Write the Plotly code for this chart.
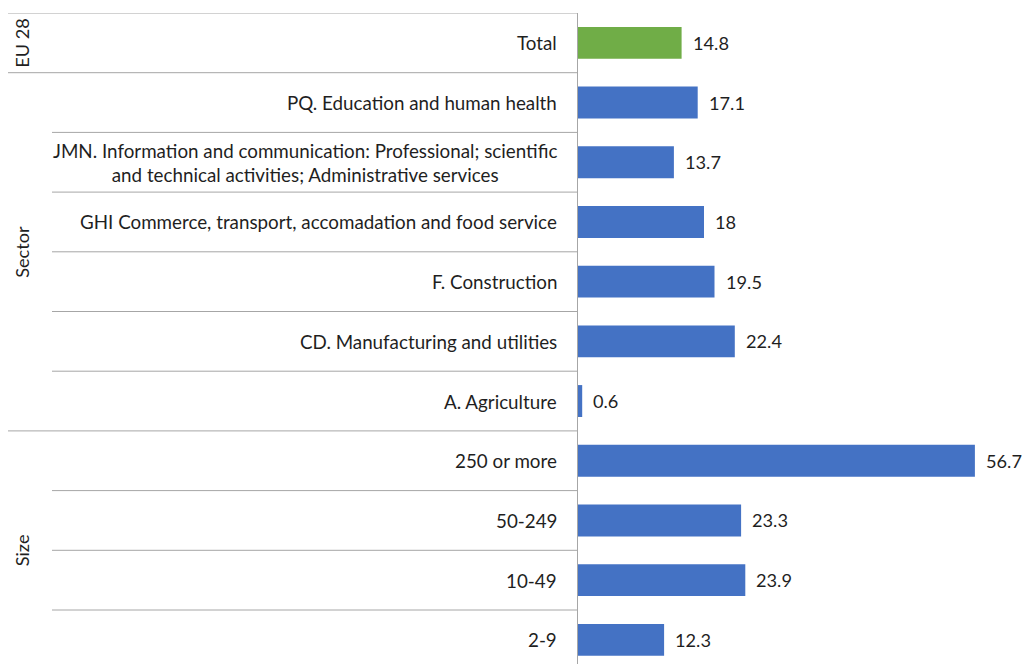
import plotly.graph_objects as go

# Share of enterprises, EU 28 breakdown by sector and size
groups = ["EU 28", "Sector", "Size"]
group_sizes = [1, 6, 4]
categories = [
    "Total",
    "PQ. Education and human health",
    "JMN. Information and communication: Professional; scientific<br>and technical activities; Administrative services",
    "GHI Commerce, transport, accomadation and food service",
    "F. Construction",
    "CD. Manufacturing and utilities",
    "A. Agriculture",
    "250 or more",
    "50-249",
    "10-49",
    "2-9",
]
values = [14.8, 17.1, 13.7, 18, 19.5, 22.4, 0.6, 56.7, 23.3, 23.9, 12.3]
value_labels = ["14.8", "17.1", "13.7", "18", "19.5", "22.4", "0.6", "56.7", "23.3", "23.9", "12.3"]

W, H = 1022, 664
AXIS_X = 578          # pixel position of the value axis
ROW_H = 59.7          # pixel height of one category row
TOP = 13
FONT = "Lato"
TEXT_COLOR = "#1f1f1f"
LINE = "#a6a6a6"

rows = list(range(len(categories)))
colors = ["#70AD47"] + ["#4472C4"] * (len(categories) - 1)

fig = go.Figure(
    go.Bar(
        x=values,
        y=rows,
        orientation="h",
        marker=dict(color=colors, line=dict(width=0)),
        width=0.535,
        hoverinfo="skip",
    )
)

px_per_unit = 7.0
x_max = (W - AXIS_X) / px_per_unit
y_bottom = -0.5 + (H - TOP) / ROW_H

annotations = []
shapes = []

# value labels just right of each bar end
for r, v, lab in zip(rows, values, value_labels):
    annotations.append(dict(
        x=v, y=r, xref="x", yref="y", text=lab, showarrow=False,
        xanchor="left", yanchor="middle", xshift=9,
        font=dict(family=FONT, size=18.2, color=TEXT_COLOR),
    ))

# category labels, right-aligned against the axis
for r, cat in zip(rows, categories):
    annotations.append(dict(
        x=(AXIS_X - 19) / W, y=r, xref="paper", yref="y", text=cat,
        showarrow=False, xanchor="right", yanchor="middle", align="center",
        font=dict(family=FONT, size=18.8, color=TEXT_COLOR),
    ))

# group labels (rotated) and row separators
start = 0
for g, n in zip(groups, group_sizes):
    centre = start + (n - 1) / 2
    annotations.append(dict(
        x=22 / W, y=centre, xref="paper", yref="y", text=g, showarrow=False,
        textangle=-90, xanchor="center", yanchor="middle",
        font=dict(family=FONT, size=18.2, color=TEXT_COLOR),
    ))
    shapes.append(dict(
        type="line", xref="paper", yref="y", x0=8 / W, x1=AXIS_X / W,
        y0=start - 0.5, y1=start - 0.5, line=dict(color=LINE, width=1),
    ))
    for k in range(1, n):
        yb = start + k - 0.5
        shapes.append(dict(
            type="line", xref="paper", yref="y", x0=52 / W, x1=AXIS_X / W,
            y0=yb, y1=yb, line=dict(color=LINE, width=1),
        ))
    start += n

fig.update_layout(
    width=W, height=H,
    margin=dict(l=0, r=0, t=TOP, b=0),
    paper_bgcolor="white", plot_bgcolor="white",
    showlegend=False,
    annotations=annotations,
    shapes=shapes,
    xaxis=dict(domain=[AXIS_X / W, 1], range=[0, x_max], visible=False, fixedrange=True),
    yaxis=dict(range=[y_bottom, -0.5], showticklabels=False, ticks="",
               showgrid=False, zeroline=False, showline=True,
               linecolor=LINE, linewidth=1, fixedrange=True),
    bargap=0.465,
)

fig.write_html("out.html")
